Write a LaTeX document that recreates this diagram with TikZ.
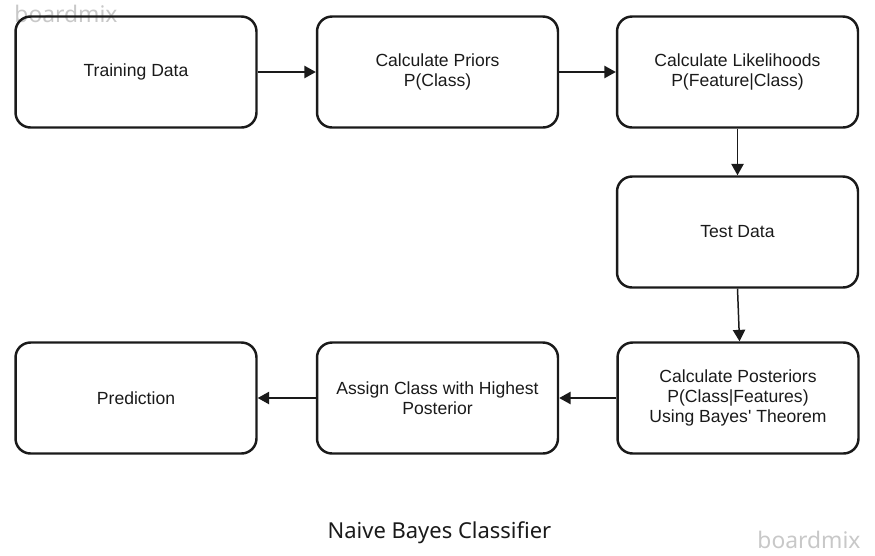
\documentclass[tikz,border=0pt]{standalone}
\usepackage{fontspec}
\setmainfont{Liberation Sans}
\newfontfamily\captionfont{Noto Sans}
\usepackage{tikz}
\usetikzlibrary{arrows.meta}
\usetikzlibrary{shapes}

\definecolor{inkdark}{HTML}{1A1A1A}
\definecolor{markgray}{HTML}{C8C8C8}

\begin{document}
\begin{tikzpicture}[x=0.02cm,y=-0.02cm]
      \tikzstyle{box}=[
        draw=inkdark,
        rectangle,
        rounded corners=0.3cm,
        line width=1.4pt,
        minimum width=4.82cm,
        minimum height=2.22cm,
        align=center,
        text=inkdark,
        font=\fontsize{10}{11.6}\selectfont,
      ]
      \tikzstyle{dedge} = [line width=0.85pt,-{Triangle[length=6.5pt,width=7pt]},draw=inkdark]
      \tikzstyle{wmark} = [text=markgray,font=\captionfont\fontsize{13}{15}\selectfont]

      \useasboundingbox (0,0) rectangle (875,555);

      \node[wmark] (wmtop) at (66,14) {boardmix};

      \node[box] (train) at (136,72) {Training Data};
      \node[box] (prior) at (437.5,72) {Calculate Priors\\P(Class)};
      \node[box] (likel) at (737.5,72) {Calculate Likelihoods\\P(Feature|Class)};
      \node[box] (test) at (737.5,232) {Test Data};
      \node[box] (post) at (738,398) {Calculate Posteriors\\P(Class|Features)\\Using Bayes\textquotesingle{} Theorem};
      \node[box] (assign) at (437.5,398) {Assign Class with Highest\\Posterior};
      \node[box] (pred) at (136,398) {Prediction};

      \draw[dedge] (train)--(prior);
      \draw[dedge] (prior)--(likel);
      \draw[dedge] (likel)--(test);
      \draw[dedge] (test.south)--([xshift=0.03cm]post.north);
      \draw[dedge] (post)--(assign);
      \draw[dedge] (assign)--(pred);

      \node[text=inkdark,font=\captionfont\fontsize{12.5}{15}\selectfont] (title) at (439.5,533) {Naive Bayes Classifier};
      \node[wmark] (wmbot) at (809,540) {boardmix};
    \end{tikzpicture}
\end{document}
